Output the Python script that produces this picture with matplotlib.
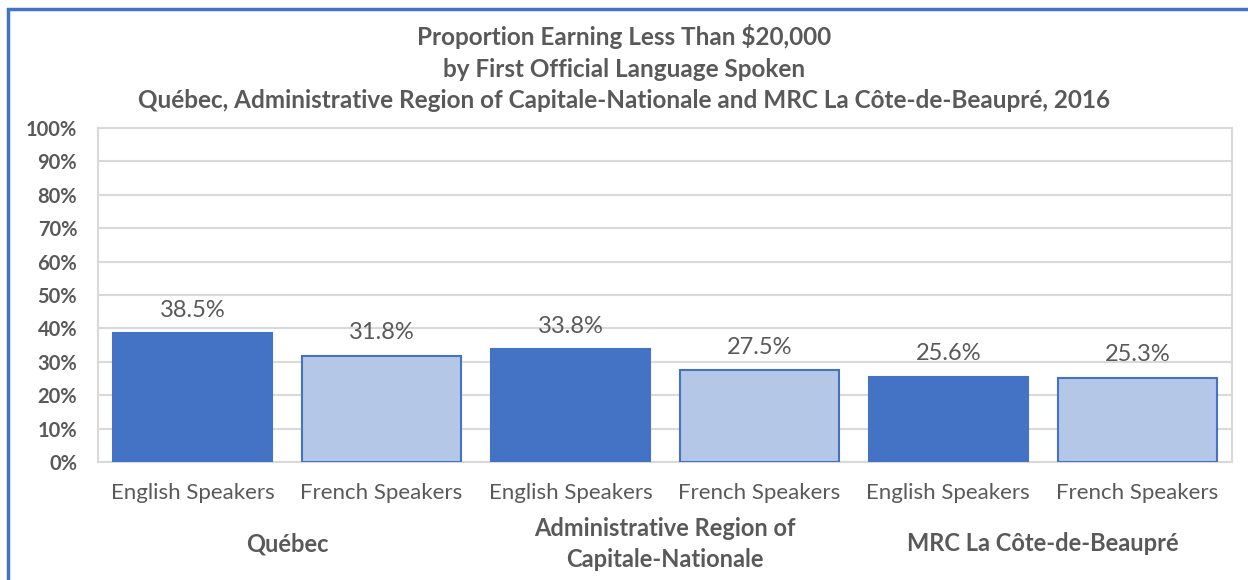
import matplotlib.pyplot as plt
from matplotlib.patches import Rectangle
from matplotlib.ticker import PercentFormatter

FONT = ["Lato", "DejaVu Sans"]
TEXT = "#595959"
DARK = "#4472C4"
LIGHT = "#B4C7E7"

regions = ["Québec", "Administrative Region of\nCapitale-Nationale", "MRC La Côte-de-Beaupré"]
languages = ["English Speakers", "French Speakers"]
values = [38.5, 31.8, 33.8, 27.5, 25.6, 25.3]

plt.rcParams["font.family"] = FONT

fig = plt.figure(figsize=(12.48, 5.8), dpi=100)
ax = fig.add_axes([0.0785, 0.2034, 0.9085, 0.5759])

xs = list(range(len(values)))
colors = [DARK if i % 2 == 0 else LIGHT for i in xs]
bars = ax.bar(xs, values, width=0.84, color=colors, edgecolor=DARK, linewidth=1.5, zorder=3)
for b, v in zip(bars, values):
	ax.annotate("{:.1f}%".format(v), (b.get_x() + b.get_width() / 2, v),
		xytext=(0, 9), textcoords="offset points", ha="center", va="bottom",
		fontsize=17, color=TEXT)

ax.set_xlim(-0.5, len(values) - 0.5)
ax.set_ylim(0, 100)
ax.set_yticks(range(0, 101, 10))
ax.yaxis.set_major_formatter(PercentFormatter(decimals=0))
ax.set_xticks(xs)
ax.set_xticklabels(languages * len(regions))
ax.tick_params(axis="x", length=0, pad=15, labelsize=16, colors=TEXT)
ax.tick_params(axis="y", length=0, pad=15, labelsize=14.5, colors=TEXT)
for lab in ax.get_yticklabels():
	lab.set_fontweight("bold")
ax.grid(axis="y", color="#D9D9D9", linewidth=1.5, zorder=0)
for s in ax.spines.values():
	s.set_color("#D9D9D9")
	s.set_linewidth(1.5)

for i, r in enumerate(regions):
	ax.text(2 * i + 0.5, -0.245, r, transform=ax.get_xaxis_transform(), ha="center", va="center",
		fontsize=17, fontweight="bold", color=TEXT, linespacing=1.4)

fig.text(0.5, 0.958, "Proportion Earning Less Than $20,000\nby First Official Language Spoken\n"
	"Québec, Administrative Region of Capitale-Nationale and MRC La Côte-de-Beaupré, 2016",
	ha="center", va="top", fontsize=17.5, fontweight="bold", color=TEXT, linespacing=1.43)

fig.patches.append(Rectangle((8 / 1248, -0.1), 1.2, 1 - 9 / 580 + 0.1, transform=fig.transFigure,
	fill=False, edgecolor=DARK, linewidth=2.5))

fig.savefig("out.png", dpi=100)
